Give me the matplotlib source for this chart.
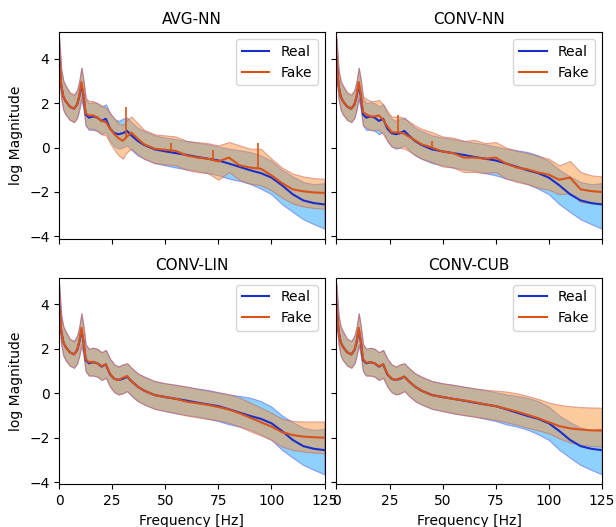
import numpy as np
import matplotlib
matplotlib.use("Agg")
import matplotlib.pyplot as plt

# frequency grid [Hz]
freq = [0, 1, 2, 3, 5, 7, 8.5, 9.5, 10.5, 11.5, 12.5, 14, 16, 18, 20, 22, 24, 26, 28, 30,
        32, 34, 37, 40, 45, 50, 55, 60, 65, 70, 75, 80, 85, 90, 95, 100, 105, 110, 115, 120, 125]

# real spectrum (same in every panel): mean, upper, lower
real_mean = [4.0, 2.8, 2.3, 2.1, 1.85, 1.75, 1.95, 2.3, 2.85, 2.3, 1.5, 1.35, 1.4, 1.35, 1.2, 1.3, 0.85, 0.65, 0.6, 0.65,
             0.75, 0.55, 0.3, 0.12, -0.08, -0.17, -0.25, -0.33, -0.42, -0.5, -0.58, -0.72, -0.87, -1.02, -1.15, -1.35,
             -1.7, -2.1, -2.38, -2.5, -2.56]
real_hi = [4.9, 3.5, 3.0, 2.8, 2.45, 2.35, 2.6, 3.0, 3.6, 3.0, 2.2, 2.0, 2.05, 2.0, 1.85, 1.95, 1.55, 1.3, 1.2, 1.3,
           1.35, 1.15, 0.9, 0.75, 0.55, 0.45, 0.38, 0.3, 0.22, 0.15, 0.05, -0.05, -0.12, -0.2, -0.35, -0.6,
           -1.0, -1.3, -1.55, -1.65, -1.6]
real_lo = [3.3, 2.2, 1.7, 1.5, 1.25, 1.15, 1.35, 1.7, 2.2, 1.7, 1.0, 0.8, 0.8, 0.75, 0.6, 0.7, 0.3, 0.05, -0.05, 0.0,
           0.1, -0.1, -0.35, -0.5, -0.7, -0.8, -0.9, -0.98, -1.05, -1.15, -1.25, -1.4, -1.5, -1.64, -1.85, -2.1,
           -2.55, -2.9, -3.23, -3.45, -3.65]

# fake spectra per model
avg_mean = [4.1, 2.8, 2.3, 2.1, 1.85, 1.75, 1.95, 2.35, 2.95, 2.4, 1.55, 1.45, 1.45, 1.35, 1.2, 1.15, 0.85, 0.6, 0.42, 0.3,
            0.5, 0.68, 0.4, 0.15, -0.05, -0.1, -0.15, -0.35, -0.45, -0.5, -0.62, -0.45, -0.8, -0.9, -0.95, -1.25,
            -1.6, -1.88, -1.97, -2.02, -2.04]
avg_hi = [5.0, 3.5, 3.0, 2.8, 2.5, 2.4, 2.6, 3.0, 3.6, 3.0, 2.25, 2.1, 2.1, 2.0, 1.9, 1.8, 1.55, 1.3, 1.1, 1.0,
          1.25, 1.4, 1.1, 0.8, 0.6, 0.55, 0.5, 0.3, 0.25, 0.2, 0.1, 0.25, 0.1, -0.05, -0.05, -0.5,
          -0.9, -1.17, -1.3, -1.38, -1.4]
avg_lo = [3.4, 2.2, 1.7, 1.5, 1.25, 1.15, 1.35, 1.75, 2.3, 1.8, 1.0, 0.85, 0.85, 0.75, 0.6, 0.55, 0.2, -0.1, -0.35, -0.5,
          -0.2, -0.05, -0.3, -0.5, -0.7, -0.75, -0.8, -1.0, -1.1, -1.15, -1.45, -1.1, -1.45, -1.62, -1.7, -1.92,
          -2.25, -2.52, -2.65, -2.72, -2.75]
avg_spike_f = [31.4, 52.6, 72.7, 93.8]
avg_spike_top = [1.85, 0.2, -0.1, 0.2]

conv_mean = [4.1, 2.8, 2.3, 2.1, 1.85, 1.75, 1.95, 2.35, 2.95, 2.4, 1.6, 1.5, 1.4, 1.4, 1.45, 1.25, 0.95, 0.7, 0.68, 0.68,
             0.62, 0.5, 0.33, 0.15, 0.0, -0.18, -0.25, -0.45, -0.45, -0.5, -0.45, -0.72, -0.9, -0.98, -1.12, -1.22,
             -1.45, -1.35, -1.88, -1.96, -2.0]
conv_hi = [5.0, 3.5, 3.0, 2.8, 2.5, 2.4, 2.6, 3.0, 3.6, 3.05, 2.3, 2.2, 2.1, 2.1, 2.15, 1.95, 1.65, 1.4, 1.4, 1.4,
           1.3, 1.2, 1.0, 0.85, 0.7, 0.5, 0.45, 0.3, 0.35, 0.2, 0.25, 0.0, -0.15, -0.25, -0.38, -0.5,
           -0.8, -0.6, -1.1, -1.25, -1.3]
conv_lo = [3.4, 2.2, 1.7, 1.5, 1.25, 1.15, 1.35, 1.75, 2.3, 1.8, 1.0, 0.9, 0.8, 0.8, 0.8, 0.6, 0.3, 0.05, 0.0, 0.0,
           -0.05, -0.15, -0.33, -0.5, -0.65, -0.85, -0.9, -1.1, -1.1, -1.15, -1.1, -1.4, -1.55, -1.65, -1.8, -1.9,
           -2.1, -2.05, -2.45, -2.5, -2.52]
conv_spike_f = [29, 45]
conv_spike_top = [1.45, 0.3]

lin_mean = [4.0, 2.8, 2.3, 2.1, 1.85, 1.75, 1.95, 2.35, 2.95, 2.35, 1.55, 1.4, 1.42, 1.35, 1.22, 1.3, 0.88, 0.65, 0.6, 0.7,
            0.78, 0.55, 0.3, 0.12, -0.08, -0.17, -0.25, -0.38, -0.45, -0.52, -0.62, -0.73, -0.9, -1.1, -1.3, -1.5,
            -1.75, -1.88, -1.95, -1.98, -2.0]
lin_hi = [4.9, 3.5, 3.0, 2.8, 2.45, 2.35, 2.6, 3.0, 3.6, 3.0, 2.2, 2.0, 2.05, 2.0, 1.85, 1.95, 1.55, 1.3, 1.2, 1.3,
          1.35, 1.15, 0.9, 0.75, 0.55, 0.45, 0.38, 0.3, 0.2, 0.12, 0.03, -0.05, -0.2, -0.42, -0.65, -0.88,
          -1.15, -1.25, -1.27, -1.27, -1.27]
lin_lo = [3.3, 2.2, 1.7, 1.5, 1.25, 1.15, 1.35, 1.7, 2.2, 1.7, 1.0, 0.8, 0.8, 0.75, 0.6, 0.7, 0.3, 0.05, -0.05, 0.0,
          0.1, -0.1, -0.35, -0.5, -0.7, -0.8, -0.9, -1.0, -1.08, -1.15, -1.22, -1.33, -1.5, -1.71, -1.9, -2.1,
          -2.4, -2.55, -2.62, -2.67, -2.7]

cub_mean = [4.0, 2.8, 2.3, 2.1, 1.85, 1.75, 1.95, 2.35, 2.95, 2.35, 1.55, 1.38, 1.4, 1.35, 1.22, 1.3, 0.88, 0.65, 0.6, 0.68,
            0.75, 0.55, 0.3, 0.12, -0.08, -0.17, -0.25, -0.32, -0.4, -0.5, -0.58, -0.7, -0.82, -0.97, -1.12, -1.3,
            -1.48, -1.58, -1.63, -1.67, -1.68]
cub_hi = [4.9, 3.5, 3.0, 2.8, 2.45, 2.35, 2.6, 3.0, 3.6, 3.0, 2.2, 2.0, 2.05, 2.0, 1.85, 1.95, 1.55, 1.3, 1.2, 1.3,
          1.35, 1.15, 0.9, 0.75, 0.55, 0.45, 0.38, 0.3, 0.22, 0.16, 0.12, 0.08, 0.0, -0.12, -0.25, -0.42,
          -0.52, -0.58, -0.62, -0.64, -0.65]
cub_lo = [3.3, 2.2, 1.7, 1.5, 1.25, 1.15, 1.35, 1.7, 2.2, 1.7, 1.0, 0.8, 0.8, 0.75, 0.6, 0.7, 0.3, 0.05, -0.05, 0.0,
          0.1, -0.1, -0.35, -0.5, -0.7, -0.8, -0.9, -0.98, -1.05, -1.12, -1.2, -1.3, -1.42, -1.55, -1.67, -1.8,
          -2.03, -2.22, -2.32, -2.37, -2.4]

titles = ["AVG-NN", "CONV-NN", "CONV-LIN", "CONV-CUB"]
fakes = [(avg_mean, avg_hi, avg_lo, avg_spike_f, avg_spike_top),
         (conv_mean, conv_hi, conv_lo, conv_spike_f, conv_spike_top),
         (lin_mean, lin_hi, lin_lo, [], []),
         (cub_mean, cub_hi, cub_lo, [], [])]

c_real = "#1a2ecc"
c_fake = "#d95319"

fig, axes = plt.subplots(2, 2, figsize=(6.16, 5.27), dpi=100, sharex=True, sharey=True)
plt.subplots_adjust(left=0.096, right=0.977, top=0.939, bottom=0.081, wspace=0.045, hspace=0.19)

for ax, title, (f_mean, f_hi, f_lo, sp_f, sp_top) in zip(axes.flat, titles, fakes):
    ax.fill_between(freq, real_lo, real_hi, facecolor="#1fa5ff", edgecolor="#5050e0",
                    linewidth=0.8, alpha=0.5)
    ax.fill_between(freq, f_lo, f_hi, facecolor="#f9963d", edgecolor="#c85a50",
                    linewidth=0.8, alpha=0.5)
    ax.plot(freq, real_mean, color=c_real, lw=1.5, label="Real")
    ax.plot(freq, f_mean, color=c_fake, lw=1.5, label="Fake")
    if sp_f:
        ax.vlines(sp_f, np.interp(sp_f, freq, f_mean), sp_top, color=c_fake, lw=1.2)
    ax.set_title(title, fontsize=11)
    ax.legend(loc="upper right", fontsize=10)
    ax.set_xlim(0, 125)
    ax.set_ylim(-4.1, 5.2)
    ax.set_xticks([0, 25, 50, 75, 100, 125])
    ax.set_yticks([-4, -2, 0, 2, 4])
    ax.tick_params(labelsize=10)

for ax in axes[:, 0]:
    ax.set_ylabel("log Magnitude", fontsize=10)
for ax in axes[1, :]:
    ax.set_xlabel("Frequency [Hz]", fontsize=10)

plt.savefig("out.png", dpi=100)
